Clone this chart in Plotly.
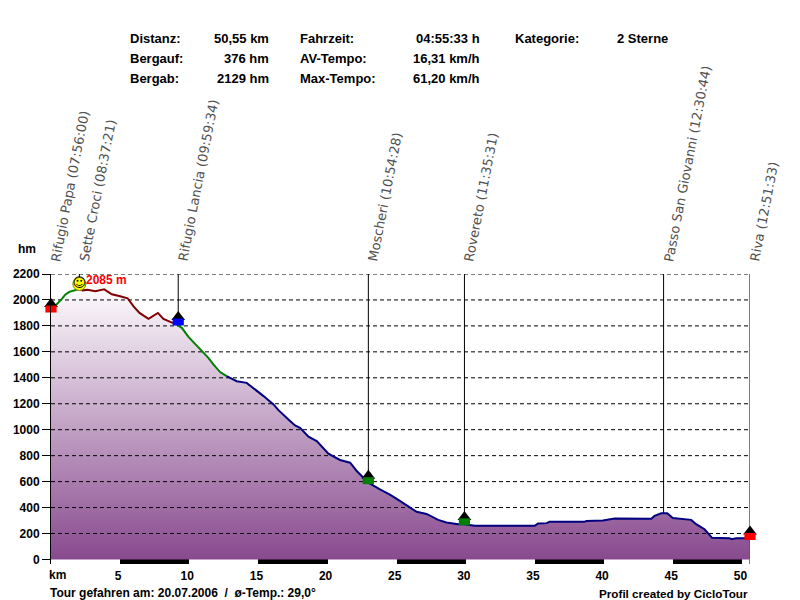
import plotly.graph_objects as go

# distance (km) and elevation (hm)
km = [0, 0.31, 0.79, 1.03, 1.32, 1.76, 2.05, 2.29, 2.65, 3.2, 3.85, 4.4, 5.0, 5.54, 5.97, 6.4, 7.05, 7.73, 8.13,
      8.74, 9.1, 9.46, 9.94, 10.3, 10.78, 11.38, 11.74, 12.23, 12.7, 13.43, 14.15, 14.63, 15.11, 15.37, 16.09,
      16.45, 17.17, 17.65, 18.01, 18.62, 19.22, 20.06, 20.9, 21.63, 22.11, 22.59, 22.95, 23.79, 24.51, 25.23,
      25.96, 26.44, 27.16, 28.0, 28.6, 29.44, 29.88, 30.65, 34.98, 35.22, 35.83, 36.06, 38.59, 38.71, 39.91,
      40.76, 43.41, 43.65, 44.13, 44.56, 44.97, 46.3, 46.66, 47.26, 47.81, 49.06, 49.23, 49.55, 50.5, 50.55]
elev = [1940, 1956, 2008, 2041, 2062, 2079, 2085, 2074, 2079, 2067, 2082, 2044, 2028, 2013, 1951, 1900, 1854, 1900, 1854,
        1823, 1810, 1785, 1715, 1674, 1623, 1554, 1503, 1444, 1413, 1374, 1361, 1323, 1279, 1259, 1195,
        1151, 1079, 1033, 1015, 946, 913, 815, 767, 746, 682, 626, 592, 541, 500, 451,
        400, 367, 351, 305, 285, 272, 272, 259, 259, 277, 280, 290, 290, 297, 300,
        315, 313, 336, 356, 356, 320, 305, 272, 233, 167, 164, 156, 164, 164, 164]

# slope colour of the line: (last index, colour)
seg_ends = [6, 20, 28, len(km) - 1]
seg_colors = ["#008000", "#800000", "#008000", "#000080"]

way_names = ["Rifugio Papa (07:56:00)", "Sette Croci (08:37:21)", "Rifugio Lancia (09:59:34)", "Moscheri (10:54:28)",
             "Rovereto (11:35:31)", "Passo San Giovanni (12:30:44)", "Riva (12:51:33)"]
way_km = [0, 2.05, 9.2, 22.95, 29.9, 44.3, 50.55]
way_elev = [1940, 2085, 1830, 607, 290, 356, 177]

house_km = [0, 9.2, 22.95, 29.9, 50.55]
house_elev = [1930, 1830, 607, 290, 177]
house_colors = ["#ff0000", "#0000ff", "#008000", "#008000", "#ff0000"]

bar_starts = [0, 5, 10, 15, 20, 25, 30, 35, 40, 45, 50]
bar_widths = [5, 5, 5, 5, 5, 5, 5, 5, 5, 5, 0.55]
bar_colors = ["white", "black"] * 5 + ["white"]

y_ticks = list(range(0, 2201, 200))
x_ticks = list(range(5, 51, 5))

header_left = [("Distanz:", 130, 38), ("Bergauf:", 130, 58), ("Bergab:", 130, 78),
               ("Fahrzeit:", 300, 38), ("AV-Tempo:", 300, 58), ("Max-Tempo:", 300, 78),
               ("Kategorie:", 515, 38), ("2 Sterne", 617, 38)]
header_right = [("50,55 km", 269, 38), ("376 hm", 269, 58), ("2129 hm", 269, 78),
                ("04:55:33 h", 480, 38), ("16,31 km/h", 480, 58), ("61,20 km/h", 480, 78)]

FONT = "Liberation Sans"
W, H = 800, 600
ML, MR, MT, MB = 50.5, 49.5, 274, 35.5


def paper_x(px):
    return (px - ML) / (W - ML - MR)


def paper_y(py):
    return (H - MB - py) / (H - MT - MB)


fig = go.Figure()

# black and white distance scale under the profile
fig.add_trace(go.Bar(x=bar_starts, y=[35] * len(bar_starts), base=-35, width=bar_widths, offset=0,
                     marker=dict(color=bar_colors, line=dict(width=0))))
fig.add_trace(go.Scatter(x=[km[-1], km[-1]], y=[-35, 0], mode="lines", line=dict(color="black", width=1)))

fig.add_trace(go.Scatter(x=km, y=elev, mode="none", fill="tozeroy",
                         fillgradient=dict(type="vertical",
                                           colorscale=[[0, "#884a8e"], [1, "#fdfbfd"]])))

# the dashed grid runs over the fill, so it is drawn as traces
for t in y_ticks[1:]:
    fig.add_trace(go.Scatter(x=[0, km[-1]], y=[t, t], mode="lines", cliponaxis=False,
                             line=dict(color="black", width=1, dash="4px,3px")))

for name_km, e in zip(way_km[1:], way_elev[1:]):
    fig.add_trace(go.Scatter(x=[name_km, name_km], y=[2200, e], mode="lines", line=dict(color="black", width=1)))

fig.add_trace(go.Scatter(x=[km[-1], km[-1]], y=[elev[-1], 0], mode="lines", line=dict(color="#008080", width=2)))

start = 0
for end, c in zip(seg_ends, seg_colors):
    fig.add_trace(go.Scatter(x=km[start:end + 1], y=elev[start:end + 1], mode="lines",
                             line=dict(color=c, width=2)))
    start = end

# little houses: black roof with the coloured block over it
fig.add_trace(go.Scatter(x=house_km, y=[e + 38 for e in house_elev], mode="markers", cliponaxis=False,
                         marker=dict(symbol="triangle-up", size=12, color="black", line=dict(width=0))))
fig.add_trace(go.Scatter(x=house_km, y=house_elev, mode="markers", cliponaxis=False,
                         marker=dict(symbol="line-ew", size=8, line=dict(color=house_colors, width=7))))

# smiley on the highest point
fig.add_trace(go.Scatter(x=[way_km[1]], y=[way_elev[1] + 38], mode="markers+text", text=["☺"],
                         textposition="middle center", cliponaxis=False,
                         textfont=dict(family="DejaVu Sans", size=13, color="black"),
                         marker=dict(symbol="circle", size=13, color="#ffff00", line=dict(color="#808000", width=1))))

fig.add_annotation(x=paper_x(84), y=paper_y(280), xref="paper", yref="paper", text="<b>2085 m</b>", showarrow=False,
                   xanchor="left", yanchor="middle", font=dict(family=FONT, size=12, color="#ff0000"))

for txt, px, py in header_left:
    fig.add_annotation(x=paper_x(px - 2), y=paper_y(py), xref="paper", yref="paper", text="<b>%s</b>" % txt,
                       showarrow=False, xanchor="left", yanchor="middle",
                       font=dict(family=FONT, size=13, color="black"))
for txt, px, py in header_right:
    fig.add_annotation(x=paper_x(px + 2), y=paper_y(py), xref="paper", yref="paper", text="<b>%s</b>" % txt,
                       showarrow=False, xanchor="right", yanchor="middle",
                       font=dict(family=FONT, size=13, color="black"))

for txt, px, py, anchor, size in [("hm", 15, 249, "left", 12), ("km", 46, 576, "left", 12),
                                  ("Tour gefahren am: 20.07.2006  /  ø-Temp.: 29,0°", 47, 594, "left", 12),
                                  ("Profil created by CicloTour", 751, 594, "right", 11.7)]:
    fig.add_annotation(x=paper_x(px), y=paper_y(py), xref="paper", yref="paper", text="<b>%s</b>" % txt,
                       showarrow=False, xanchor=anchor, yanchor="middle",
                       font=dict(family=FONT, size=size, color="black"))

# waypoint names, tilted above the plot
for name, k in zip(way_names, way_km):
    fig.add_annotation(x=k, y=paper_y(265), xref="x", yref="paper", text=name, textangle=-79, showarrow=False,
                       xanchor="left", yanchor="bottom", xshift=-5,
                       font=dict(family="DejaVu Sans", size=13, color="#505050"))

fig.update_layout(
    width=W, height=H, autosize=False, showlegend=False, barmode="overlay", bargap=0,
    margin=dict(l=ML, r=MR, t=MT, b=MB, pad=0),
    paper_bgcolor="white", plot_bgcolor="white",
    xaxis=dict(range=[0, 50.55], tickvals=x_ticks, showgrid=False, zeroline=False, showline=False,
               ticks="outside", ticklen=1, tickcolor="rgba(0,0,0,0)", ticklabelshift=-2,
               tickfont=dict(family=FONT, size=12, color="black", weight="bold")),
    yaxis=dict(range=[-35, 2200], tickvals=y_ticks, showgrid=False,
               zeroline=True, zerolinecolor="black", zerolinewidth=1, showline=True, linecolor="black", linewidth=1,
               ticks="outside", ticklen=8, tickcolor="black", tickwidth=1, layer="above traces",
               tickfont=dict(family=FONT, size=12, color="black", weight="bold")),
)

fig.write_html("out.html", post_script="document.body.style.margin='0';", config={"displayModeBar": False})
